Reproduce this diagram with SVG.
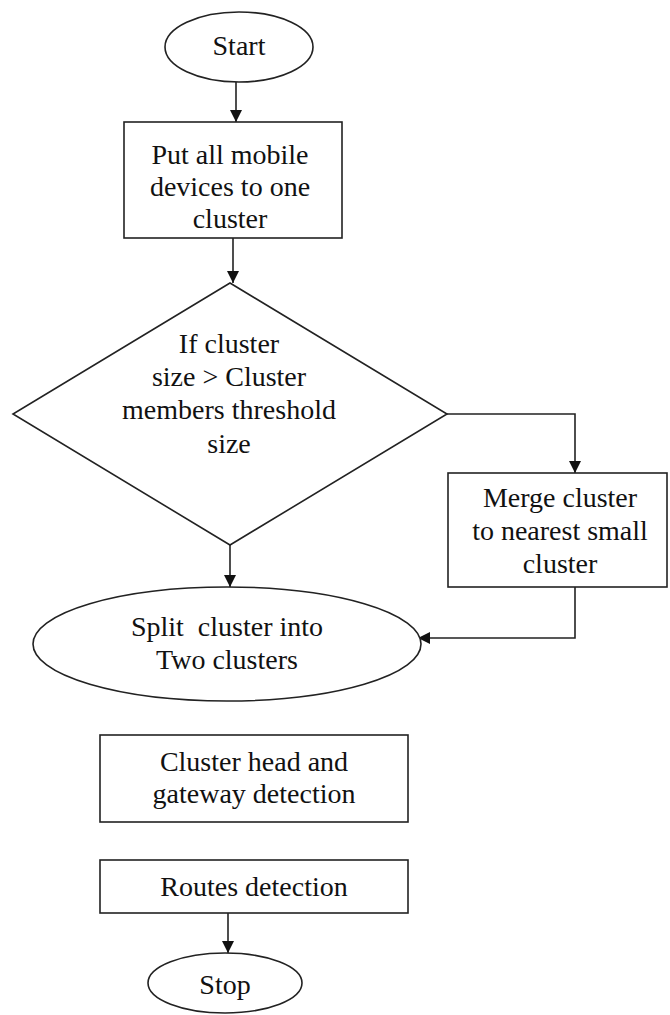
<svg xmlns="http://www.w3.org/2000/svg" width="670" height="1015" viewBox="0 0 670 1015">
  <style>
    .shape { fill: #fff; stroke: #222; stroke-width: 1.6; }
    .wire { fill: none; stroke: #222; stroke-width: 1.6; }
    .label { font-family: "Liberation Serif", "DejaVu Serif", serif; font-size: 28px; fill: #111; text-anchor: middle; }
  </style>
  <defs>
    <marker id="arrow" viewBox="0 0 12 12" refX="12" refY="6" markerWidth="12" markerHeight="12" markerUnits="userSpaceOnUse" orient="auto">
      <path d="M0,0 L12,6 L0,12 Z" fill="#111"/>
    </marker>
  </defs>

  <g id="connectors">
    <line class="wire" x1="236" y1="82" x2="236" y2="122" marker-end="url(#arrow)"/>
    <line class="wire" x1="233" y1="238" x2="233" y2="283" marker-end="url(#arrow)"/>
    <polyline class="wire" points="447,414 575,414 575,473" marker-end="url(#arrow)"/>
    <line class="wire" x1="230" y1="545" x2="230" y2="587" marker-end="url(#arrow)"/>
    <polyline class="wire" points="575,587 575,638 418,638" marker-end="url(#arrow)"/>
    <line class="wire" x1="228" y1="913" x2="228" y2="953" marker-end="url(#arrow)"/>
  </g>

  <g id="start">
    <ellipse class="shape" cx="239" cy="47" rx="74" ry="35"/>
    <text class="label" x="239" y="55">Start</text>
  </g>

  <g id="put-devices">
    <rect class="shape" x="124" y="122" width="218" height="116"/>
    <text class="label" x="230" y="164">Put all mobile</text>
    <text class="label" x="230" y="196">devices to one</text>
    <text class="label" x="230" y="228">cluster</text>
  </g>

  <g id="size-check">
    <polygon class="shape" points="230,283 447,414 230,545 13,414"/>
    <text class="label" x="229" y="353">If cluster</text>
    <text class="label" x="229" y="386">size &gt; Cluster</text>
    <text class="label" x="229" y="419">members threshold</text>
    <text class="label" x="229" y="453">size</text>
  </g>

  <g id="merge">
    <rect class="shape" x="448" y="473" width="219" height="114"/>
    <text class="label" x="560" y="507">Merge cluster</text>
    <text class="label" x="560" y="540">to nearest small</text>
    <text class="label" x="560" y="573">cluster</text>
  </g>

  <g id="split">
    <ellipse class="shape" cx="227" cy="644" rx="194" ry="57"/>
    <text class="label" x="227" y="636" xml:space="preserve">Split  cluster into</text>
    <text class="label" x="227" y="669">Two clusters</text>
  </g>

  <g id="head-gateway">
    <rect class="shape" x="100" y="735" width="308" height="87"/>
    <text class="label" x="254" y="771">Cluster head and</text>
    <text class="label" x="254" y="803">gateway detection</text>
  </g>

  <g id="routes">
    <rect class="shape" x="100" y="860" width="308" height="53"/>
    <text class="label" x="254" y="896">Routes detection</text>
  </g>

  <g id="stop">
    <ellipse class="shape" cx="225" cy="983" rx="77" ry="30"/>
    <text class="label" x="225" y="994">Stop</text>
  </g>
</svg>
